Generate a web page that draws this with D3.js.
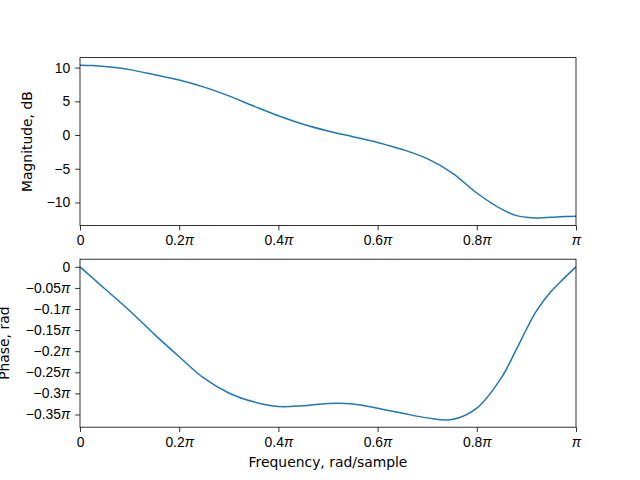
<!DOCTYPE html>
<html>
<head>
<meta charset="utf-8">
<script src="https://cdn.jsdelivr.net/npm/d3@7"></script>
<style>
  body { margin: 0; background: #fff; }
  svg { display: block; font-family: "DejaVu Sans", sans-serif; }
  .axis text { font-size: 13.9px; fill: #000; }
  .axis path, .axis line { stroke: #000; stroke-width: 0.8px; }
  .label { font-size: 13.9px; fill: #000; }
</style>
</head>
<body>
<svg id="chart" width="640" height="480"></svg>
<script>
// frequency as a fraction of pi
const freq = [0, 0.025, 0.05, 0.1, 0.15, 0.2, 0.25, 0.3, 0.35, 0.4, 0.45, 0.5, 0.55, 0.6,
              0.65, 0.7, 0.75, 0.8, 0.85, 0.88, 0.9, 0.92, 0.95, 0.975, 1.0];
// magnitude in dB
const magnitude = [10.35, 10.3, 10.15, 9.7, 8.95, 8.15, 7.1, 5.8, 4.3, 2.85, 1.6, 0.6, -0.25, -1.1,
                   -2.15, -3.5, -5.6, -8.6, -11.0, -11.95, -12.2, -12.3, -12.2, -12.1, -12.05];
// phase as a fraction of pi
const phase = [0, -0.026, -0.052, -0.104, -0.16, -0.213, -0.264, -0.299, -0.32, -0.331, -0.329, -0.324, -0.325, -0.335,
               -0.347, -0.358, -0.362, -0.335, -0.262, -0.195, -0.148, -0.105, -0.058, -0.028, 0];

const xTicks = [0, 0.2, 0.4, 0.6, 0.8, 1.0];
const magTicks = [-10, -5, 0, 5, 10];
const phaseTicks = [0, -0.05, -0.1, -0.15, -0.2, -0.25, -0.3, -0.35];

const svg = d3.select('#chart');
const left = 80, right = 576;
const panels = [
    { top: 57.6, bottom: 225.6, values: magnitude, ticks: magTicks, label: 'Magnitude, dB', labelX: 27, pi: false },
    { top: 259.2, bottom: 427.2, values: phase, ticks: phaseTicks, label: 'Phase, rad', labelX: 4, pi: true },
];

const x = d3.scaleLinear().domain([0, 1]).range([left, right]);
const tickLen = 4.86, tickPad = 4.86;

// write "0.2π" style labels with an italic pi, like mathtext
function piLabel(sel, v) {
    const t = sel.text(null);
    if (v === 0) { t.text('0'); return; }
    let s = Math.abs(v) === 1 ? '' : d3.format('')(+Math.abs(v).toFixed(2));
    if (v < 0) s = '\u2212' + s;
    t.append('tspan').text(s);
    t.append('tspan').attr('font-style', 'italic').text('\u03c0');
}

panels.forEach(p => {
    const [lo, hi] = d3.extent(p.values);
    const pad = (hi - lo) * 0.05;
    const y = d3.scaleLinear().domain([lo - pad, hi + pad]).range([p.bottom, p.top]);

    const line = d3.line()
        .x((d, i) => x(freq[i]))
        .y(d => y(d))
        .curve(d3.curveCatmullRom.alpha(0.5));

    const g = svg.append('g');

    g.append('path')
        .datum(p.values)
        .attr('fill', 'none')
        .attr('stroke', '#1f77b4')
        .attr('stroke-width', 1.5)
        .attr('stroke-linejoin', 'round')
        .attr('d', line);

    // frame
    g.append('rect')
        .attr('x', left).attr('y', p.top)
        .attr('width', right - left).attr('height', p.bottom - p.top)
        .attr('fill', 'none').attr('stroke', '#000').attr('stroke-width', 0.8);

    const xAxis = g.append('g')
        .attr('class', 'axis')
        .attr('transform', `translate(0,${p.bottom})`)
        .call(d3.axisBottom(x).tickValues(xTicks).tickSize(tickLen).tickPadding(tickPad).tickSizeOuter(0));
    xAxis.select('.domain').remove();
    xAxis.selectAll('.tick text').each(function(d) { piLabel(d3.select(this), d); });

    const yAxis = g.append('g')
        .attr('class', 'axis')
        .attr('transform', `translate(${left},0)`)
        .call(d3.axisLeft(y).tickValues(p.ticks).tickSize(tickLen).tickPadding(tickPad).tickSizeOuter(0)
            .tickFormat(d => d3.format('')(d).replace('-', '\u2212')));
    yAxis.select('.domain').remove();
    if (p.pi) yAxis.selectAll('.tick text').each(function(d) { piLabel(d3.select(this), d); });

    g.append('text')
        .attr('class', 'label')
        .attr('transform', `translate(${p.labelX},${(p.top + p.bottom) / 2}) rotate(-90)`)
        .attr('text-anchor', 'middle')
        .attr('dy', '0.35em')
        .text(p.label);
});

svg.append('text')
    .attr('class', 'label')
    .attr('x', (left + right) / 2)
    .attr('y', 467)
    .attr('text-anchor', 'middle')
    .text('Frequency, rad/sample');
</script>
</body>
</html>
